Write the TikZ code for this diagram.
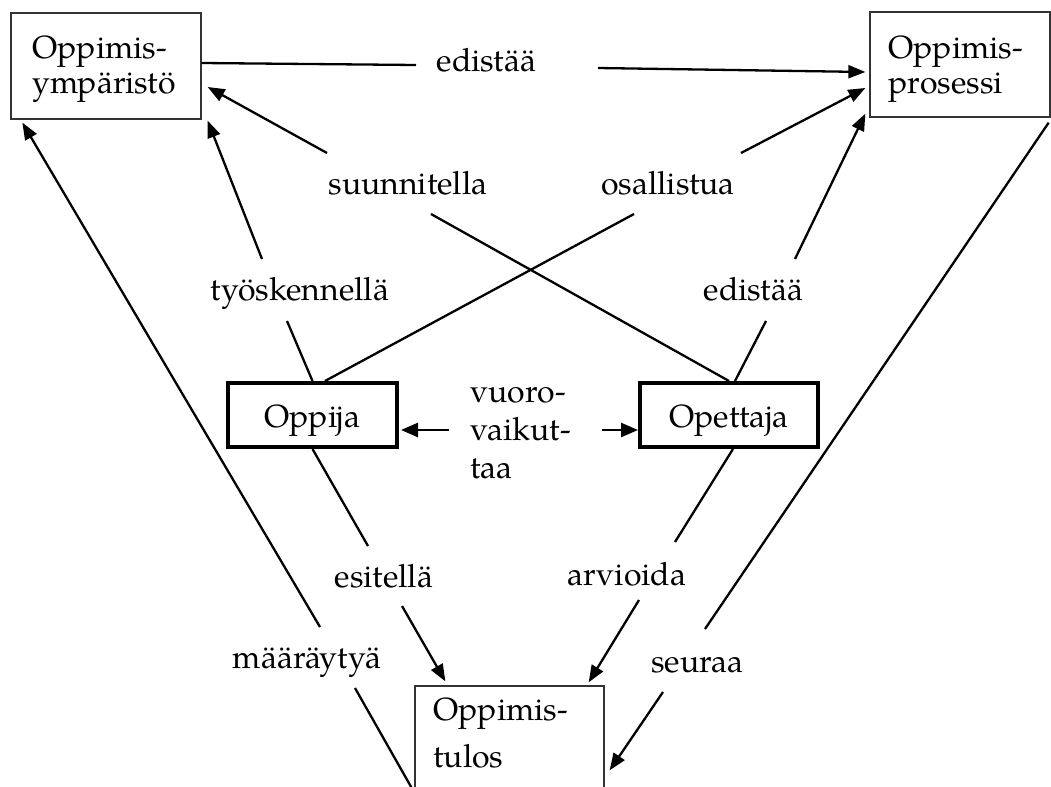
\documentclass[tikz,border=0pt]{standalone}
\usepackage{fontspec}
\setmainfont{TeX Gyre Pagella}
\usetikzlibrary{arrows.meta,calc}
\begin{document}
\begin{tikzpicture}[x=0.5pt,y=-0.5pt,
  every node/.style={font=\fontsize{16}{17.5}\selectfont},
  thinbox/.style={draw=black!80, line width=0.65pt, rectangle, inner sep=0pt},
  thickbox/.style={draw=black, line width=2pt, rectangle, inner sep=0pt, text height=12pt, text depth=0pt},
  boxtext/.style={anchor=base west, align=left, inner sep=0pt},
  lbl/.style={inner sep=0pt, anchor=base},
  conn/.style={line width=1.15pt},
  arr/.style={conn, -{Triangle[length=8.5pt,width=6.5pt]}},
  varr/.style={line width=1.3pt, -{Triangle[length=8.5pt,width=7pt]}},
]
\useasboundingbox (0,0) rectangle (1051,787);

% boxes
\node[thinbox, minimum width=95pt, minimum height=53pt] (tl) at (106,66) {};
\node[boxtext] (tltxt) at (32,93) {Oppimis-\\ympäristö};
\node[thinbox, minimum width=90pt, minimum height=52.5pt] (tr) at (960,64.5) {};
\node[boxtext] (trtxt) at (888,93) {Oppimis-\\prosessi};
\node[thickbox, minimum width=84.5pt, minimum height=32pt] (oppija) at (312.5,415) {Oppija};
\node[thickbox, minimum width=89pt, minimum height=32pt] (opettaja) at (729,415) {Opettaja};
\node[thinbox, minimum width=94.5pt, minimum height=53pt] (tulos) at (509.5,739) {};
\node[boxtext, font=\fontsize{16}{23.5}\selectfont] (tulostxt) at (433,767) {Oppimis-\\tulos};

% labels
\node[boxtext, font=\fontsize{16}{19}\selectfont] (vuoro) at (470,478) {vuoro-\\vaikut-\\taa};
\node[lbl] (ed1) at (486.5,71) {edistää};
\node[lbl] (sun) at (408,194) {suunnitella};
\node[lbl] (osa) at (668,194) {osallistua};
\node[lbl] (tyo) at (300,300) {työskennellä};
\node[lbl] (ed2) at (753.5,300) {edistää};
\node[lbl] (esi) at (384,587) {esitellä};
\node[lbl] (arv) at (627,585) {arvioida};
\node[lbl] (maa) at (307,668) {määräytyä};
\node[lbl] (seu) at (697.5,672) {seuraa};

% gap end points beside the labels
\coordinate (e1a) at (416,65);   \coordinate (e1b) at (598,68);
\coordinate (sup) at (327,153);  \coordinate (slo) at (431,214);
\coordinate (oup) at (741,153);  \coordinate (olo) at (634,214);
\coordinate (tup) at (262,259);  \coordinate (tlo) at (287,321);
\coordinate (eup) at (795,259);  \coordinate (elo) at (766,321);
\coordinate (esup) at (368,546); \coordinate (eslo) at (402,606);
\coordinate (arup) at (675,542); \coordinate (arlo) at (639,600);
\coordinate (mup) at (320,627);  \coordinate (mlo) at (355,688);
\coordinate (seup) at (705,629); \coordinate (selo) at (663,692);
\coordinate (vl) at (449,430);   \coordinate (vr) at (602,430);

% connectors
\draw[conn] ($(tl.east)+(0,-3)$) -- (e1a);
\draw[arr] (e1b) -- ($(tr.west)+(-4,7.5)$);
\draw[arr] (sup) -- ($(tl.east)+(6,21)$);
\draw[conn] (slo) -- (opettaja.north);
\draw[arr] (oup) -- ($(tr.west)+(-4,23.5)$);
\draw[conn] (olo) -- ($(oppija.north)+(12.5,0)$);
\draw[arr] (tup) -- ($(tl.south east)+(6,1)$);
\draw[conn] (tlo) -- (oppija.north);
\draw[arr] (eup) -- ($(tr.south west)+(-4,-4)$);
\draw[conn] (elo) -- ($(opettaja.north)+(6,0)$);
\draw[conn] (oppija.south) -- (esup);
\draw[arr] (eslo) -- ($(tulos.north west)+(31,-4)$);
\draw[conn] ($(opettaja.south)+(4,0)$) -- (arup);
\draw[arr] (arlo) -- ($(tulos.north east)+(-16,-3)$);
\draw[arr] (mup) -- ($(tl.south west)+(12,3)$);
\draw[conn] (mlo) -- (tulos.south west);
\draw[conn] ($(tr.south east)+(-2,5)$) -- (seup);
\draw[arr] (selo) -- ($(tulos.north east)+(5,85)$);
\draw[varr] (vl) -- ($(oppija.east)+(2,15)$);
\draw[varr] (vr) -- ($(opettaja.west)+(0,15)$);
\end{tikzpicture}
\end{document}
